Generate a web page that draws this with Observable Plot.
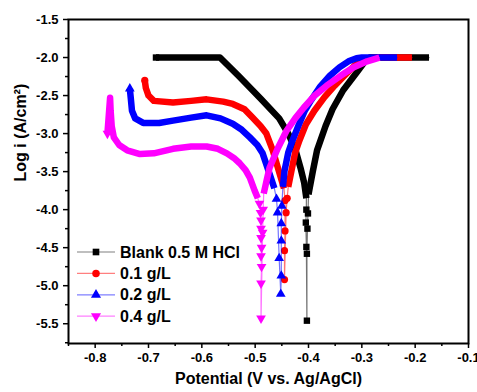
<!DOCTYPE html>
<html><head><meta charset="utf-8">
<script src="https://cdn.jsdelivr.net/npm/d3@7"></script>
<script src="https://cdn.jsdelivr.net/npm/@observablehq/plot@0.6"></script>
<style>
html,body{margin:0;padding:0;background:#fff;}
#wrap{position:relative;width:477px;height:392px;}
</style></head><body><div id="wrap"></div>
<script>
// ---- data (Potential V vs Ag/AgCl, log i) ----
const seriesNames = ["Blank 0.5 M HCl", "0.1 g/L", "0.2 g/L", "0.4 g/L"];
const seriesColors = ["#000000", "#ff0000", "#0000ff", "#ff00ff"];

const blankCath = [[-0.686,-2.0],[-0.566,-2.0],[-0.53,-2.25],[-0.49,-2.54],[-0.455,-2.80],[-0.438,-3.0],[-0.425,-3.2],[-0.415,-3.45],[-0.408,-3.65],[-0.404,-3.85]];
const blankSpike = [[-0.404,-4.0],[-0.405,-4.17],[-0.404,-4.49],[-0.403,-5.46],[-0.403,-4.58],[-0.402,-4.25],[-0.401,-4.05]];
const blankAnod = [[-0.400,-3.8],[-0.392,-3.5],[-0.384,-3.22],[-0.368,-2.9],[-0.355,-2.68],[-0.335,-2.43],[-0.31,-2.2],[-0.295,-2.06],[-0.285,-2.0],[-0.174,-2.0]];

const r01Cath = [[-0.707,-2.30],[-0.705,-2.40],[-0.700,-2.50],[-0.690,-2.57],[-0.654,-2.59],[-0.62,-2.57],[-0.591,-2.55],[-0.56,-2.58],[-0.542,-2.61],[-0.52,-2.68],[-0.505,-2.79],[-0.490,-2.90],[-0.479,-3.0],[-0.467,-3.22],[-0.454,-3.53],[-0.446,-3.72]];
const r01Spike = [[-0.444,-3.88],[-0.444,-4.28],[-0.445,-4.54],[-0.445,-4.92],[-0.442,-4.04],[-0.440,-3.85]];
const r01Anod = [[-0.438,-3.7],[-0.432,-3.49],[-0.425,-3.25],[-0.417,-3.09],[-0.405,-2.88],[-0.389,-2.70],[-0.37,-2.52],[-0.351,-2.37],[-0.33,-2.22],[-0.314,-2.11],[-0.295,-2.03],[-0.28,-2.0],[-0.206,-2.0]];

const r02Cath = [[-0.735,-2.41],[-0.733,-2.55],[-0.731,-2.70],[-0.725,-2.80],[-0.710,-2.86],[-0.68,-2.86],[-0.654,-2.83],[-0.62,-2.79],[-0.591,-2.76],[-0.565,-2.80],[-0.542,-2.87],[-0.525,-2.95],[-0.510,-3.05],[-0.496,-3.15],[-0.486,-3.26],[-0.473,-3.53],[-0.464,-3.72]];
const r02Spike = [[-0.460,-3.86],[-0.458,-4.04],[-0.455,-4.64],[-0.452,-5.11],[-0.451,-4.87],[-0.451,-4.41],[-0.451,-4.18],[-0.450,-3.95]];
const r02Anod = [[-0.448,-3.7],[-0.445,-3.49],[-0.438,-3.25],[-0.430,-3.09],[-0.418,-2.88],[-0.407,-2.70],[-0.395,-2.56],[-0.379,-2.39],[-0.36,-2.24],[-0.342,-2.13],[-0.325,-2.05],[-0.31,-2.01],[-0.30,-2.0],[-0.234,-2.0]];

const r04Cath = [[-0.777,-3.0],[-0.772,-2.53],[-0.771,-2.7],[-0.769,-2.9],[-0.765,-3.05],[-0.755,-3.15],[-0.740,-3.22],[-0.716,-3.27],[-0.69,-3.26],[-0.654,-3.20],[-0.62,-3.17],[-0.591,-3.17],[-0.57,-3.20],[-0.553,-3.26],[-0.540,-3.32],[-0.529,-3.39],[-0.518,-3.48],[-0.510,-3.58],[-0.501,-3.75],[-0.495,-3.85]];
const r04Spike = [[-0.492,-3.92],[-0.490,-4.04],[-0.489,-4.14],[-0.489,-4.25],[-0.489,-4.37],[-0.488,-4.50],[-0.489,-4.61],[-0.488,-4.75],[-0.489,-4.97],[-0.489,-5.43],[-0.486,-4.3],[-0.485,-4.0]];
const r04Anod = [[-0.484,-3.79],[-0.478,-3.6],[-0.473,-3.45],[-0.458,-3.2],[-0.441,-2.96],[-0.425,-2.80],[-0.409,-2.66],[-0.39,-2.51],[-0.366,-2.37],[-0.34,-2.24],[-0.316,-2.13],[-0.29,-2.05],[-0.267,-2.0]];

const xMajor = [-0.8,-0.7,-0.6,-0.5,-0.4,-0.3,-0.2,-0.1];
const xMinor = [-0.85,-0.75,-0.65,-0.55,-0.45,-0.35,-0.25,-0.15];
const yMajor = [-5.5,-5.0,-4.5,-4.0,-3.5,-3.0,-2.5,-2.0,-1.5];
const yMinor = [-5.75,-5.25,-4.75,-4.25,-3.75,-3.25,-2.75,-2.25,-1.75];

// ---- build tables ----
const triangleDown = {draw(ctx, size){
  const y = -Math.sqrt(size / (Math.sqrt(3) * 3));
  ctx.moveTo(0, -y * 2); ctx.lineTo(-Math.sqrt(3) * y, y); ctx.lineTo(Math.sqrt(3) * y, y); ctx.closePath();
}};
const symbols = ["square","circle","triangle",triangleDown];
const parts = [[blankCath,blankSpike,blankAnod],[r01Cath,r01Spike,r01Anod],[r02Cath,r02Spike,r02Anod],[r04Cath,r04Spike,r04Anod]];
const toRows = (arr, s, part) => arr.map(([x,y]) => ({x, y, s, part}));

const font = "'Liberation Sans', Arial, sans-serif";
const marks = [];
parts.forEach(([c, sp, a], i) => {
  const col = seriesColors[i];
  const all = toRows([...c, ...sp, ...a], i, "all");
  marks.push(Plot.line(all, {x:"x", y:"y", stroke: col, strokeWidth: 1.2, strokeOpacity: 0.55}));
  marks.push(Plot.line(toRows(c, i, "c"), {x:"x", y:"y", stroke: col, strokeWidth: 6.5, strokeLinecap:"butt", strokeLinejoin:"round"}));
  marks.push(Plot.line(toRows(a, i, "a"), {x:"x", y:"y", stroke: col, strokeWidth: 6.5, strokeLinecap:"butt", strokeLinejoin:"round"}));
  marks.push(Plot.dot(toRows([...sp, c[0]], i, "m"), {x:"x", y:"y", fill: col, stroke: "none", r: 3.6, symbol: symbols[i]}));
});

const chart = Plot.plot({
  width: 477, height: 392,
  marginLeft: 68, marginRight: 9, marginTop: 19, marginBottom: 49,
  style: {fontFamily: font, fontSize: "13px", fontWeight: "bold", color: "#000", background: "#fff"},
  x: {domain: [-0.85, -0.1]},
  y: {domain: [-5.76, -1.5]},
  marks: [
    ...marks,
    Plot.axisX({ticks: xMajor, tickSize: 5, tickPadding: 4, strokeWidth: 1.5, tickFormat: d => d.toFixed(1), label: null}),
    Plot.axisX({ticks: xMinor, tickSize: 3, strokeWidth: 1.5, tickFormat: () => "", label: null}),
    Plot.axisY({ticks: yMajor, tickSize: 5, tickPadding: 5, strokeWidth: 1.5, tickFormat: d => d.toFixed(1), label: null}),
    Plot.axisY({ticks: yMinor, tickSize: 3, strokeWidth: 1.5, tickFormat: () => "", label: null}),
    Plot.frame({stroke: "#000", strokeWidth: 2}),
    Plot.text(["Potential (V vs. Ag/AgCl)"], {frameAnchor: "bottom", dy: 40, fontSize: 16, fontWeight: "bold", fontFamily: font}),
    Plot.text(["Log i (A/cm²)"], {frameAnchor: "left", dx: -48, rotate: -90, fontSize: 16, fontWeight: "bold", fontFamily: font})
  ]
});
document.getElementById("wrap").appendChild(chart);

// ---- legend overlay ----
const leg = d3.select("#wrap").append("svg")
  .style("position","absolute").style("left","75px").style("top","241px")
  .attr("width", 200).attr("height", 90);
seriesNames.forEach((name, i) => {
  const g = leg.append("g").attr("transform", `translate(0,${11 + i*21.4})`);
  g.append("line").attr("x1", 2).attr("x2", 40).attr("y1", 0).attr("y2", 0)
    .attr("stroke", seriesColors[i]).attr("stroke-opacity", 0.5).attr("stroke-width", 1.2);
  const sym = typeof symbols[i] === "string" ? {square: d3.symbolSquare, circle: d3.symbolCircle, triangle: d3.symbolTriangle}[symbols[i]] : symbols[i];
  g.append("path").attr("transform","translate(21,0)").attr("d", d3.symbol(sym, 44)()).attr("fill", seriesColors[i]);
  g.append("text").attr("x", 45).attr("y", 0).attr("dy", "0.35em")
    .attr("font-family", font).attr("font-weight", "bold").attr("font-size", 16).attr("fill", "#000").text(name);
});
</script></body></html>
